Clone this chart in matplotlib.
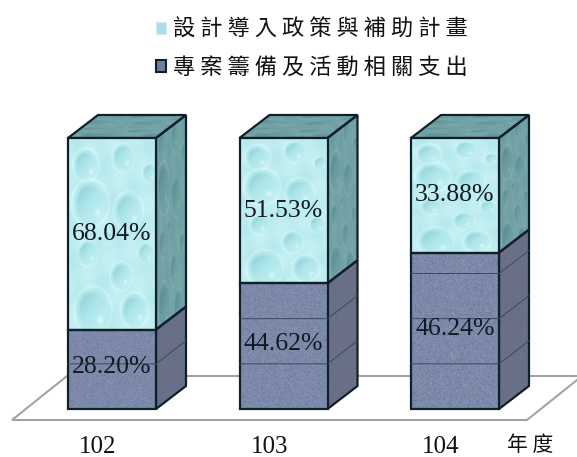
import matplotlib
matplotlib.use("Agg")
import matplotlib.pyplot as plt
import numpy as np
from matplotlib.colors import LinearSegmentedColormap
from matplotlib.patches import Patch, Polygon

years = ["102", "103", "104"]
series_labels = ["設計導入政策與補助計畫", "專案籌備及活動相關支出"]
project_pct = [28.20, 44.62, 46.24]
design_pct = [68.04, 51.53, 33.88]
year_unit = "年度"

serif = ["Liberation Serif", "DejaVu Serif"]
cjk = ["Noto Sans CJK TC", "DejaVu Sans"]

# picture scale: 171.5 px per category, 2.71 px per percent
px_x, px_y = 171.5, 2.71
bar_w = 88 / px_x
depth_x, depth_y = 30 / px_x, 23 / px_y
edge = "#10202a"

water_cm = LinearSegmentedColormap.from_list("water", ["#7fc6ce", "#aee6ea", "#c6f1f3", "#eafbfb"])
water_side_cm = LinearSegmentedColormap.from_list("water_side", ["#4f8487", "#689a9e", "#77a6a9", "#8fbabc"])
stone_cm = LinearSegmentedColormap.from_list("stone", ["#505d85", "#707d9f", "#a9b3cb"])
stone_side_cm = LinearSegmentedColormap.from_list("stone_side", ["#5c6379", "#666d85", "#727a90"])

# droplets on the water texture: u, v, radius (face units, v up)
drops = [(0.2, 0.86, 0.14), (0.62, 0.9, 0.12), (0.25, 0.66, 0.2), (0.68, 0.62, 0.16),
         (0.22, 0.4, 0.11), (0.6, 0.28, 0.12), (0.28, 0.1, 0.2), (0.75, 0.1, 0.15),
         (0.88, 0.4, 0.09), (0.45, 0.48, 0.05), (0.92, 0.82, 0.08)]


def water_texture(n=200, m=300):
    u, v = np.meshgrid(np.linspace(0, 1, n), np.linspace(0, 1, m))
    tex = 0.55 + 0.06 * np.sin(u * 23 + v * 9) + 0.05 * np.sin(v * 31 - u * 7)
    for cx, cy, r in drops:
        ry = r * 0.6
        d = np.hypot((u - cx) / r, (v - cy) / ry)
        mask = np.clip((1 - d) / 0.3, 0, 1)
        shade = 0.36 + ((u - cx) / r - (v - cy) / ry) * 0.18
        tex = tex * (1 - mask) + shade * mask
        rim = np.clip(1 - np.abs(d - 1.06) / 0.1, 0, 1)
        tex = tex + rim * 0.22
        glint = np.hypot((u - cx - 0.4 * r) / (0.25 * r), (v - cy + 0.4 * ry) / (0.25 * ry))
        tex = tex + np.clip(1 - glint, 0, 1) * 0.4
    return np.clip(tex, 0, 1)


def stone_texture(n=180, m=240):
    u, v = np.meshgrid(np.arange(n), np.arange(m))
    h = np.sin(u * 12.9898 + v * 78.233) * 43758.5453
    return 0.35 + 0.5 * (h - np.floor(h))


def textured(ax, pts, tex, cmap, z):
    poly = Polygon(pts, closed=True, facecolor="none", edgecolor=edge, linewidth=1.6, zorder=z + 0.1)
    ax.add_patch(poly)
    pts = np.array(pts)
    im = ax.imshow(tex, cmap=cmap, vmin=0, vmax=1, origin="lower", aspect="auto", interpolation="bilinear",
                   extent=[pts[:, 0].min(), pts[:, 0].max(), pts[:, 1].min(), pts[:, 1].max()], zorder=z)
    im.set_clip_path(poly)


fig = plt.figure(figsize=(5.77, 4.57), dpi=100)
ax = fig.add_axes([0, 0, 1, 1])

# floor behind the bars
floor_y, floor_dy = -11 / px_y, 44 / px_y
floor_l, floor_r, floor_dx = -100 / px_x, 415 / px_x, 55 / px_x
ax.add_patch(Polygon([(floor_l, floor_y), (floor_r, floor_y), (floor_r + floor_dx, floor_y + floor_dy),
                      (floor_l + floor_dx, floor_y + floor_dy)],
                     closed=True, facecolor="white", edgecolor="#a3a3a3", linewidth=1.5, zorder=1))

water = water_texture()
stone = stone_texture()
stone_side = stone_texture(60, 240)
for i, year in enumerate(years):
    total = project_pct[i] + design_pct[i]
    split = project_pct[i] / total * 100
    l, r = i - bar_w / 2, i + bar_w / 2

    # right hand faces and top
    textured(ax, [(r, 0), (r + depth_x, depth_y), (r + depth_x, split + depth_y), (r, split)],
             stone_side, stone_side_cm, 2)
    textured(ax, [(r, split), (r + depth_x, split + depth_y), (r + depth_x, 100 + depth_y), (r, 100)],
             water, water_side_cm, 2)
    textured(ax, [(l, 100), (r, 100), (r + depth_x, 100 + depth_y), (l + depth_x, 100 + depth_y)],
             water, water_side_cm, 2)
    # front faces
    textured(ax, [(l, 0), (r, 0), (r, split), (l, split)], stone, stone_cm, 3)
    textured(ax, [(l, split), (r, split), (r, 100), (l, 100)], water, water_cm, 3)

    # gridlines show through the lower segment
    for g in np.arange(1, 6) * 100 / 6:
        if g < split - 2:
            ax.plot([l, r, r + depth_x], [g, g, g + depth_y], color="#3c4763", lw=0.7, zorder=4)

    ax.text(i, split / 2 + 0.8, f"{project_pct[i]:.2f}%", family=serif, fontsize=18.5, color="#111a22",
            ha="center", va="center", zorder=6)
    ax.text(i, (split + 100) / 2, f"{design_pct[i]:.2f}%", family=serif, fontsize=18.5, color="#111a22",
            ha="center", va="center", zorder=6)
    ax.text(i - 14 / px_x, -38 / px_y, year, family=serif, fontsize=18, color="#111111",
            ha="center", va="center", zorder=6)

ax.text(2 + 75 / px_x, -36 / px_y, " ".join(year_unit), family=cjk, fontsize=15, color="#111111",
        ha="center", va="center")

handles = [Patch(facecolor="#a9dfe8", edgecolor="#d5eef2", linewidth=0.8),
           Patch(facecolor="#6f7d9f", edgecolor=edge, linewidth=1.5)]
ax.legend(handles, [" ".join(s) for s in series_labels], loc="upper center", bbox_to_anchor=(0.54, 1.0),
          frameon=False, prop={"family": cjk, "size": 16}, handlelength=0.45, handleheight=0.5,
          handletextpad=0.3, labelspacing=0.68, borderaxespad=0.4, labelcolor="#111111")

ax.set_xlim(-112 / px_x, (577 - 112) / px_x)
ax.set_ylim(-48 / px_y, 409 / px_y)
ax.axis("off")
fig.savefig("out.png", dpi=100)
